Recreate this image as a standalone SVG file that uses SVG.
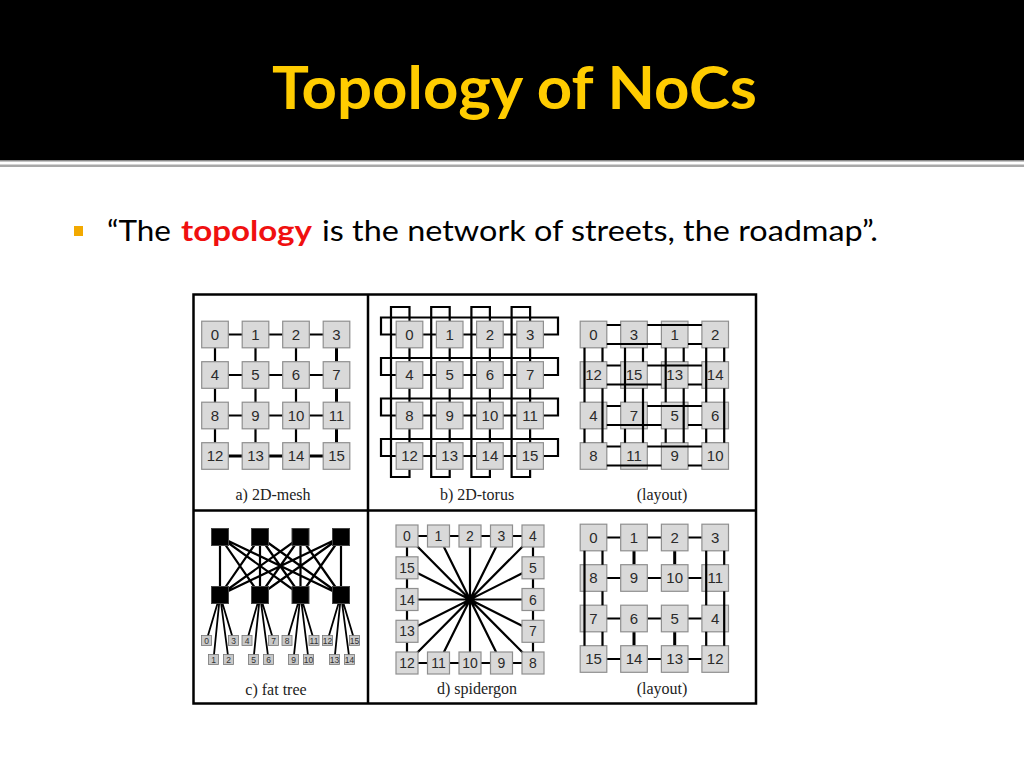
<svg xmlns="http://www.w3.org/2000/svg" width="1024" height="768" viewBox="0 0 1024 768">
<style>
.n{fill:#d9d9d9;stroke:#8f8f8f;stroke-width:1.2}
.t{font-family:"Liberation Sans",Arial,sans-serif;font-size:15px;fill:#2a2a2a;text-anchor:middle}
.ts{font-size:14px}
.l{fill:none;stroke:#000;stroke-width:2.2}
.lt3{fill:none;stroke:#000;stroke-width:3}
.lf2{fill:none;stroke:#000;stroke-width:1.8}
.cap{font-family:"Liberation Serif","Times New Roman",serif;font-size:16px;fill:#222;text-anchor:middle}
.r{fill:#000;stroke:#444;stroke-width:1}
.lf{fill:#c8c8c8;stroke:#777;stroke-width:0.8}
.lt{font-family:"Liberation Sans",Arial,sans-serif;font-size:8.5px;fill:#333;text-anchor:middle}
.body{font-family:Lato,"Open Sans",sans-serif;font-size:29px;fill:#000}
</style>
<rect x="0" y="0" width="1024" height="768" fill="#fff"/>
<g id="header">
<rect x="0" y="0" width="1024" height="160" fill="#000"/>
<rect x="0" y="160" width="1024" height="1.5" fill="#8a8a8a"/>
<rect x="0" y="164.5" width="1024" height="2.5" fill="#a8a8a8"/>
<text x="272" y="109" font-family="Lato,'Open Sans',sans-serif" font-weight="700" font-size="60" fill="#FFCC00" textLength="485" lengthAdjust="spacingAndGlyphs">Topology of NoCs</text>
</g>
<g id="bullet">
<rect x="74" y="226" width="9" height="10" fill="#F2A900"/>
<text class="body" x="107" y="241" textLength="64" lengthAdjust="spacingAndGlyphs">“The</text>
<text class="body" x="181" y="241" font-weight="700" style="fill:#F01010" textLength="131" lengthAdjust="spacingAndGlyphs">topology</text>
<text class="body" x="322" y="241" textLength="556" lengthAdjust="spacingAndGlyphs">is the network of streets, the roadmap”.</text>
</g>
<g id="frame">
<rect x="193.5" y="294.5" width="562.5" height="409" fill="none" stroke="#000" stroke-width="2.5"/>
<path d="M368,294.5V703.5M193.5,510.5H756" fill="none" stroke="#000" stroke-width="2.5"/>
</g>
<g id="connectors">
<path class="l" d="M215,334.5H336.5M215,375H336.5M215,415.5H336.5M215,334.5V456M255.5,334.5V456M296,334.5V456"/>
<path class="lt3" d="M215,456H336.5M336.5,334.5V456"/>
<path class="l" d="M409.5,334.5H530.1M409.5,375H530.1M409.5,415.5H530.1M409.5,456H530.1M409.5,334.5V456M449.7,334.5V456M489.9,334.5V456M530.1,334.5V456"/>
<path class="l" d="M396,334.5H381V317.5H558V334.5H544M396,375H381V358H558V375H544M396,415.5H381V398.5H558V415.5H544M396,456H381V439H558V456H544"/>
<path class="l" d="M409.5,321V307H391V477H409.5V469.5M449.7,321V307H431.2V477H449.7V469.5M489.9,321V307H471.4V477H489.9V469.5M530.1,321V307H511.6V477H530.1V469.5"/>
<path class="l" d="M407,536H533V663H407Z"/>
<path class="l" d="M407,536L533,663M438.5,536L501.5,663M470,536V663M501.5,536L438.5,663M533,536L407,663M533,567.8L407,631.3M533,599.5H407M533,631.3L407,567.8"/>
<path class="l" d="M220,537L220,595M220,537L260,595M220,537L300.5,595M220,537L341,595M260,537L220,595M260,537L260,595M260,537L300.5,595M260,537L341,595M300.5,537L220,595M300.5,537L260,595M300.5,537L300.5,595M300.5,537L341,595M341,537L220,595M341,537L260,595M341,537L300.5,595M341,537L341,595"/>
<path class="lf2" d="M220,595L206.5,640.5M220,595L213.5,659.5M220,595L228.5,659.5M220,595L233.5,640.5M260,595L247,640.5M260,595L253.5,659.5M260,595L268.5,659.5M260,595L273.5,640.5M300.5,595L287,640.5M300.5,595L293.5,659.5M300.5,595L308.5,659.5M300.5,595L314,640.5M341,595L327.5,640.5M341,595L334.5,659.5M341,595L349.5,659.5M341,595L354.5,640.5"/>
<path class="l" d="M593.5,537.5H715.2M593.5,578H715.2M593.5,618.5H715.2M593.5,659H715.2"/>
<path class="lt3" d="M634,537.5V578M634,618.5V659M674.7,537.5V578M674.7,618.5V659"/>
</g>
<g id="mesh">
<g id="a0"><rect class="n" x="201.7" y="321.2" width="26.6" height="26.6"/><text class="t" x="215" y="339.9">0</text></g>
<g id="a1"><rect class="n" x="242.2" y="321.2" width="26.6" height="26.6"/><text class="t" x="255.5" y="339.9">1</text></g>
<g id="a2"><rect class="n" x="282.7" y="321.2" width="26.6" height="26.6"/><text class="t" x="296" y="339.9">2</text></g>
<g id="a3"><rect class="n" x="323.2" y="321.2" width="26.6" height="26.6"/><text class="t" x="336.5" y="339.9">3</text></g>
<g id="a4"><rect class="n" x="201.7" y="361.7" width="26.6" height="26.6"/><text class="t" x="215" y="380.4">4</text></g>
<g id="a5"><rect class="n" x="242.2" y="361.7" width="26.6" height="26.6"/><text class="t" x="255.5" y="380.4">5</text></g>
<g id="a6"><rect class="n" x="282.7" y="361.7" width="26.6" height="26.6"/><text class="t" x="296" y="380.4">6</text></g>
<g id="a7"><rect class="n" x="323.2" y="361.7" width="26.6" height="26.6"/><text class="t" x="336.5" y="380.4">7</text></g>
<g id="a8"><rect class="n" x="201.7" y="402.2" width="26.6" height="26.6"/><text class="t" x="215" y="420.9">8</text></g>
<g id="a9"><rect class="n" x="242.2" y="402.2" width="26.6" height="26.6"/><text class="t" x="255.5" y="420.9">9</text></g>
<g id="a10"><rect class="n" x="282.7" y="402.2" width="26.6" height="26.6"/><text class="t" x="296" y="420.9">10</text></g>
<g id="a11"><rect class="n" x="323.2" y="402.2" width="26.6" height="26.6"/><text class="t" x="336.5" y="420.9">11</text></g>
<g id="a12"><rect class="n" x="201.7" y="442.7" width="26.6" height="26.6"/><text class="t" x="215" y="461.4">12</text></g>
<g id="a13"><rect class="n" x="242.2" y="442.7" width="26.6" height="26.6"/><text class="t" x="255.5" y="461.4">13</text></g>
<g id="a14"><rect class="n" x="282.7" y="442.7" width="26.6" height="26.6"/><text class="t" x="296" y="461.4">14</text></g>
<g id="a15"><rect class="n" x="323.2" y="442.7" width="26.6" height="26.6"/><text class="t" x="336.5" y="461.4">15</text></g>
<text class="cap" x="273" y="500">a) 2D-mesh</text>
</g>
<g id="torus">
<g id="b0"><rect class="n" x="396.2" y="321.2" width="26.6" height="26.6"/><text class="t" x="409.5" y="339.9">0</text></g>
<g id="b1"><rect class="n" x="436.4" y="321.2" width="26.6" height="26.6"/><text class="t" x="449.7" y="339.9">1</text></g>
<g id="b2"><rect class="n" x="476.6" y="321.2" width="26.6" height="26.6"/><text class="t" x="489.9" y="339.9">2</text></g>
<g id="b3"><rect class="n" x="516.8" y="321.2" width="26.6" height="26.6"/><text class="t" x="530.1" y="339.9">3</text></g>
<g id="b4"><rect class="n" x="396.2" y="361.7" width="26.6" height="26.6"/><text class="t" x="409.5" y="380.4">4</text></g>
<g id="b5"><rect class="n" x="436.4" y="361.7" width="26.6" height="26.6"/><text class="t" x="449.7" y="380.4">5</text></g>
<g id="b6"><rect class="n" x="476.6" y="361.7" width="26.6" height="26.6"/><text class="t" x="489.9" y="380.4">6</text></g>
<g id="b7"><rect class="n" x="516.8" y="361.7" width="26.6" height="26.6"/><text class="t" x="530.1" y="380.4">7</text></g>
<g id="b8"><rect class="n" x="396.2" y="402.2" width="26.6" height="26.6"/><text class="t" x="409.5" y="420.9">8</text></g>
<g id="b9"><rect class="n" x="436.4" y="402.2" width="26.6" height="26.6"/><text class="t" x="449.7" y="420.9">9</text></g>
<g id="b10"><rect class="n" x="476.6" y="402.2" width="26.6" height="26.6"/><text class="t" x="489.9" y="420.9">10</text></g>
<g id="b11"><rect class="n" x="516.8" y="402.2" width="26.6" height="26.6"/><text class="t" x="530.1" y="420.9">11</text></g>
<g id="b12"><rect class="n" x="396.2" y="442.7" width="26.6" height="26.6"/><text class="t" x="409.5" y="461.4">12</text></g>
<g id="b13"><rect class="n" x="436.4" y="442.7" width="26.6" height="26.6"/><text class="t" x="449.7" y="461.4">13</text></g>
<g id="b14"><rect class="n" x="476.6" y="442.7" width="26.6" height="26.6"/><text class="t" x="489.9" y="461.4">14</text></g>
<g id="b15"><rect class="n" x="516.8" y="442.7" width="26.6" height="26.6"/><text class="t" x="530.1" y="461.4">15</text></g>
<text class="cap" x="477" y="500">b) 2D-torus</text>
</g>
<g id="torus-layout">
<g id="c0"><rect class="n" x="580.2" y="321.2" width="26.6" height="26.6"/><text class="t" x="593.5" y="339.9">0</text></g>
<g id="c3"><rect class="n" x="620.7" y="321.2" width="26.6" height="26.6"/><text class="t" x="634" y="339.9">3</text></g>
<g id="c1"><rect class="n" x="661.4" y="321.2" width="26.6" height="26.6"/><text class="t" x="674.7" y="339.9">1</text></g>
<g id="c2"><rect class="n" x="701.9" y="321.2" width="26.6" height="26.6"/><text class="t" x="715.2" y="339.9">2</text></g>
<g id="c12"><rect class="n" x="580.2" y="361.7" width="26.6" height="26.6"/><text class="t" x="593.5" y="380.4">12</text></g>
<g id="c15"><rect class="n" x="620.7" y="361.7" width="26.6" height="26.6"/><text class="t" x="634" y="380.4">15</text></g>
<g id="c13"><rect class="n" x="661.4" y="361.7" width="26.6" height="26.6"/><text class="t" x="674.7" y="380.4">13</text></g>
<g id="c14"><rect class="n" x="701.9" y="361.7" width="26.6" height="26.6"/><text class="t" x="715.2" y="380.4">14</text></g>
<g id="c4"><rect class="n" x="580.2" y="402.2" width="26.6" height="26.6"/><text class="t" x="593.5" y="420.9">4</text></g>
<g id="c7"><rect class="n" x="620.7" y="402.2" width="26.6" height="26.6"/><text class="t" x="634" y="420.9">7</text></g>
<g id="c5"><rect class="n" x="661.4" y="402.2" width="26.6" height="26.6"/><text class="t" x="674.7" y="420.9">5</text></g>
<g id="c6"><rect class="n" x="701.9" y="402.2" width="26.6" height="26.6"/><text class="t" x="715.2" y="420.9">6</text></g>
<g id="c8"><rect class="n" x="580.2" y="442.7" width="26.6" height="26.6"/><text class="t" x="593.5" y="461.4">8</text></g>
<g id="c11"><rect class="n" x="620.7" y="442.7" width="26.6" height="26.6"/><text class="t" x="634" y="461.4">11</text></g>
<g id="c9"><rect class="n" x="661.4" y="442.7" width="26.6" height="26.6"/><text class="t" x="674.7" y="461.4">9</text></g>
<g id="c10"><rect class="n" x="701.9" y="442.7" width="26.6" height="26.6"/><text class="t" x="715.2" y="461.4">10</text></g>
<text class="cap" x="662" y="500">(layout)</text>
</g>
<g id="fat-tree">
<g id="ft-t0"><rect class="r" x="211.5" y="528.5" width="17" height="17"/></g>
<g id="ft-t1"><rect class="r" x="251.5" y="528.5" width="17" height="17"/></g>
<g id="ft-t2"><rect class="r" x="292" y="528.5" width="17" height="17"/></g>
<g id="ft-t3"><rect class="r" x="332.5" y="528.5" width="17" height="17"/></g>
<g id="ft-b0"><rect class="r" x="211.5" y="586.5" width="17" height="17"/></g>
<g id="ft-b1"><rect class="r" x="251.5" y="586.5" width="17" height="17"/></g>
<g id="ft-b2"><rect class="r" x="292" y="586.5" width="17" height="17"/></g>
<g id="ft-b3"><rect class="r" x="332.5" y="586.5" width="17" height="17"/></g>
<g id="ft-l0"><rect class="lf" x="201.5" y="635.5" width="10" height="10"/><text class="lt" x="206.5" y="643.5">0</text></g>
<g id="ft-l1"><rect class="lf" x="208.5" y="654.5" width="10" height="10"/><text class="lt" x="213.5" y="662.5">1</text></g>
<g id="ft-l2"><rect class="lf" x="223.5" y="654.5" width="10" height="10"/><text class="lt" x="228.5" y="662.5">2</text></g>
<g id="ft-l3"><rect class="lf" x="228.5" y="635.5" width="10" height="10"/><text class="lt" x="233.5" y="643.5">3</text></g>
<g id="ft-l4"><rect class="lf" x="242" y="635.5" width="10" height="10"/><text class="lt" x="247" y="643.5">4</text></g>
<g id="ft-l5"><rect class="lf" x="248.5" y="654.5" width="10" height="10"/><text class="lt" x="253.5" y="662.5">5</text></g>
<g id="ft-l6"><rect class="lf" x="263.5" y="654.5" width="10" height="10"/><text class="lt" x="268.5" y="662.5">6</text></g>
<g id="ft-l7"><rect class="lf" x="268.5" y="635.5" width="10" height="10"/><text class="lt" x="273.5" y="643.5">7</text></g>
<g id="ft-l8"><rect class="lf" x="282" y="635.5" width="10" height="10"/><text class="lt" x="287" y="643.5">8</text></g>
<g id="ft-l9"><rect class="lf" x="288.5" y="654.5" width="10" height="10"/><text class="lt" x="293.5" y="662.5">9</text></g>
<g id="ft-l10"><rect class="lf" x="303.5" y="654.5" width="10" height="10"/><text class="lt" x="308.5" y="662.5">10</text></g>
<g id="ft-l11"><rect class="lf" x="309" y="635.5" width="10" height="10"/><text class="lt" x="314" y="643.5">11</text></g>
<g id="ft-l12"><rect class="lf" x="322.5" y="635.5" width="10" height="10"/><text class="lt" x="327.5" y="643.5">12</text></g>
<g id="ft-l13"><rect class="lf" x="329.5" y="654.5" width="10" height="10"/><text class="lt" x="334.5" y="662.5">13</text></g>
<g id="ft-l14"><rect class="lf" x="344.5" y="654.5" width="10" height="10"/><text class="lt" x="349.5" y="662.5">14</text></g>
<g id="ft-l15"><rect class="lf" x="349.5" y="635.5" width="10" height="10"/><text class="lt" x="354.5" y="643.5">15</text></g>
<text class="cap" x="276" y="695">c) fat tree</text>
</g>
<g id="spidergon">
<g id="s0"><rect class="n" x="396" y="525" width="22" height="22"/><text class="t ts" x="407" y="541">0</text></g>
<g id="s1"><rect class="n" x="427.5" y="525" width="22" height="22"/><text class="t ts" x="438.5" y="541">1</text></g>
<g id="s2"><rect class="n" x="459" y="525" width="22" height="22"/><text class="t ts" x="470" y="541">2</text></g>
<g id="s3"><rect class="n" x="490.5" y="525" width="22" height="22"/><text class="t ts" x="501.5" y="541">3</text></g>
<g id="s4"><rect class="n" x="522" y="525" width="22" height="22"/><text class="t ts" x="533" y="541">4</text></g>
<g id="s5"><rect class="n" x="522" y="556.8" width="22" height="22"/><text class="t ts" x="533" y="572.8">5</text></g>
<g id="s6"><rect class="n" x="522" y="588.5" width="22" height="22"/><text class="t ts" x="533" y="604.5">6</text></g>
<g id="s7"><rect class="n" x="522" y="620.3" width="22" height="22"/><text class="t ts" x="533" y="636.3">7</text></g>
<g id="s8"><rect class="n" x="522" y="652" width="22" height="22"/><text class="t ts" x="533" y="668">8</text></g>
<g id="s9"><rect class="n" x="490.5" y="652" width="22" height="22"/><text class="t ts" x="501.5" y="668">9</text></g>
<g id="s10"><rect class="n" x="459" y="652" width="22" height="22"/><text class="t ts" x="470" y="668">10</text></g>
<g id="s11"><rect class="n" x="427.5" y="652" width="22" height="22"/><text class="t ts" x="438.5" y="668">11</text></g>
<g id="s12"><rect class="n" x="396" y="652" width="22" height="22"/><text class="t ts" x="407" y="668">12</text></g>
<g id="s13"><rect class="n" x="396" y="620.3" width="22" height="22"/><text class="t ts" x="407" y="636.3">13</text></g>
<g id="s14"><rect class="n" x="396" y="588.5" width="22" height="22"/><text class="t ts" x="407" y="604.5">14</text></g>
<g id="s15"><rect class="n" x="396" y="556.8" width="22" height="22"/><text class="t ts" x="407" y="572.8">15</text></g>
<text class="cap" x="477" y="694">d) spidergon</text>
</g>
<g id="spidergon-layout">
<g id="d0"><rect class="n" x="580.2" y="524.2" width="26.6" height="26.6"/><text class="t" x="593.5" y="542.9">0</text></g>
<g id="d1"><rect class="n" x="620.7" y="524.2" width="26.6" height="26.6"/><text class="t" x="634" y="542.9">1</text></g>
<g id="d2"><rect class="n" x="661.4" y="524.2" width="26.6" height="26.6"/><text class="t" x="674.7" y="542.9">2</text></g>
<g id="d3"><rect class="n" x="701.9" y="524.2" width="26.6" height="26.6"/><text class="t" x="715.2" y="542.9">3</text></g>
<g id="d8"><rect class="n" x="580.2" y="564.7" width="26.6" height="26.6"/><text class="t" x="593.5" y="583.4">8</text></g>
<g id="d9"><rect class="n" x="620.7" y="564.7" width="26.6" height="26.6"/><text class="t" x="634" y="583.4">9</text></g>
<g id="d10"><rect class="n" x="661.4" y="564.7" width="26.6" height="26.6"/><text class="t" x="674.7" y="583.4">10</text></g>
<g id="d11"><rect class="n" x="701.9" y="564.7" width="26.6" height="26.6"/><text class="t" x="715.2" y="583.4">11</text></g>
<g id="d7"><rect class="n" x="580.2" y="605.2" width="26.6" height="26.6"/><text class="t" x="593.5" y="623.9">7</text></g>
<g id="d6"><rect class="n" x="620.7" y="605.2" width="26.6" height="26.6"/><text class="t" x="634" y="623.9">6</text></g>
<g id="d5"><rect class="n" x="661.4" y="605.2" width="26.6" height="26.6"/><text class="t" x="674.7" y="623.9">5</text></g>
<g id="d4"><rect class="n" x="701.9" y="605.2" width="26.6" height="26.6"/><text class="t" x="715.2" y="623.9">4</text></g>
<g id="d15"><rect class="n" x="580.2" y="645.7" width="26.6" height="26.6"/><text class="t" x="593.5" y="664.4">15</text></g>
<g id="d14"><rect class="n" x="620.7" y="645.7" width="26.6" height="26.6"/><text class="t" x="634" y="664.4">14</text></g>
<g id="d13"><rect class="n" x="661.4" y="645.7" width="26.6" height="26.6"/><text class="t" x="674.7" y="664.4">13</text></g>
<g id="d12"><rect class="n" x="701.9" y="645.7" width="26.6" height="26.6"/><text class="t" x="715.2" y="664.4">12</text></g>
<text class="cap" x="662" y="694">(layout)</text>
</g>
<g id="connectors-over">
<path class="l" d="M606.8,325H620.7M647.3,325H701.9M606.8,344H661.4M688,344H701.9M606.8,365.5H620.7M647.3,365.5H701.9M606.8,384.5H661.4M688,384.5H701.9M606.8,406H620.7M647.3,406H701.9M606.8,425H661.4M688,425H701.9M606.8,446.5H620.7M647.3,446.5H701.9M606.8,465.5H661.4M688,465.5H701.9"/>
<path class="l" d="M584.5,347.8V402.2M584.5,428.8V442.7M602.5,347.8V361.7M602.5,388.3V442.7M625,347.8V402.2M625,428.8V442.7M643,347.8V361.7M643,388.3V442.7M665.7,347.8V402.2M665.7,428.8V442.7M683.7,347.8V361.7M683.7,388.3V442.7M706.2,347.8V402.2M706.2,428.8V442.7M724.2,347.8V361.7M724.2,388.3V442.7"/>
<path class="l" d="M584.5,550.8V645.7M602.5,550.8V564.7M602.5,591.3V605.2M602.5,631.8V645.7M706.2,550.8V605.2M706.2,631.8V645.7M724.2,550.8V564.7M724.2,591.3V645.7"/>
</g>
</svg>
